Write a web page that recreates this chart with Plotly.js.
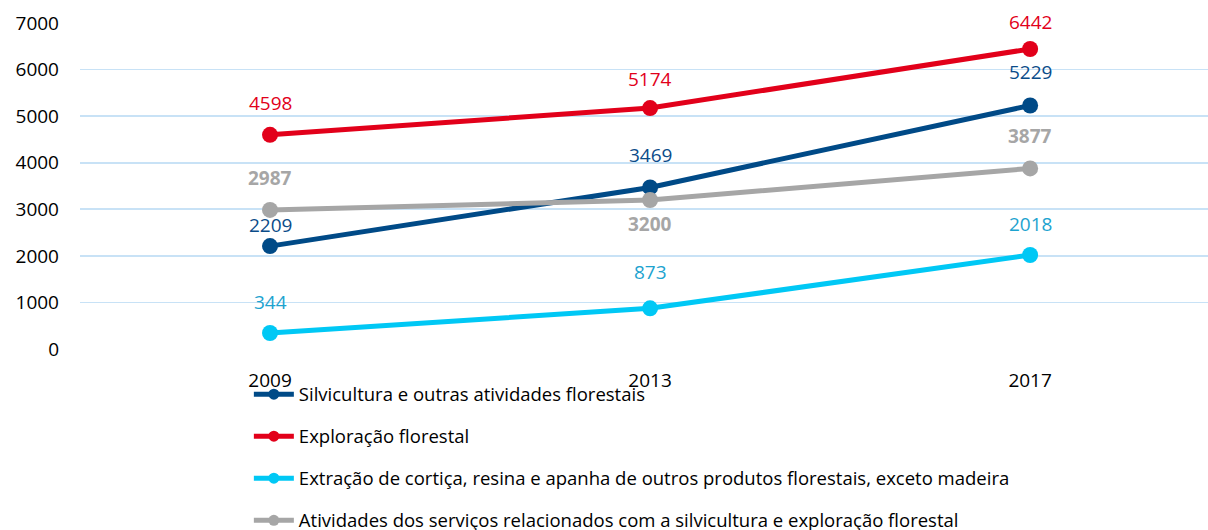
<!DOCTYPE html>
<html>
<head>
<meta charset="utf-8">
<script src="https://cdn.plot.ly/plotly-3.0.1.min.js"></script>
<style>html,body{margin:0;padding:0;background:#fff}#chart{width:1208px;height:530px}</style>
</head>
<body>
<div id="chart"></div>
<script>
const years = ['2009', '2013', '2017'];
const seriesNames = [
  'Silvicultura e outras atividades florestais',
  'Exploração florestal',
  'Extração de cortiça, resina e apanha de outros produtos florestais, exceto madeira',
  'Atividades dos serviços relacionados com a silvicultura e exploração florestal'
];
const silvicultura = [2209, 3469, 5229];
const exploracao = [4598, 5174, 6442];
const extracao = [344, 873, 2018];
const servicos = [2987, 3200, 3877];
const yTicks = [0, 1000, 2000, 3000, 4000, 5000, 6000, 7000];

// styling (not data)
const lineColors = ['#004A87', '#E2001A', '#00C8F5', '#A6A6A6'];
const textColors = ['#0B4C89', '#E2001A', '#1DA3CF', '#A6A6A6'];
const labelShift = [
  [21, 32, 33],
  [32, 29, 27],
  [31, 36, 31],
  [32, -24, 32]
];
const FONT = 'Open Sans, sans-serif';

const allValues = [silvicultura, exploracao, extracao, servicos];

const traces = allValues.map((vals, i) => ({
  type: 'scatter',
  mode: 'lines+markers',
  x: years,
  y: vals,
  name: seriesNames[i],
  showlegend: false,
  line: {color: lineColors[i], width: 5},
  marker: {color: lineColors[i], size: 16},
  cliponaxis: false
}));

// legend entries with smaller legend markers
seriesNames.forEach((nm, i) => {
  traces.push({
    type: 'scatter',
    mode: 'lines+markers',
    x: [years[0]], y: [null],
    name: nm,
    legendgroup: 'g' + i,
    showlegend: true,
    line: {color: lineColors[i], width: 5},
    marker: {color: lineColors[i], size: 11}
  });
});

const annotations = [];
allValues.forEach((vals, i) => {
  vals.forEach((v, j) => {
    const f = {family: FONT, size: 19, color: textColors[i]};
    if (i === 3) f.weight = 700;
    annotations.push({
      x: j, y: v, xref: 'x', yref: 'y',
      text: String(v), showarrow: false,
      yshift: labelShift[i][j],
      font: f
    });
  });
});

const layout = {
  width: 1208, height: 530,
  margin: {l: 80, r: 0, t: 23, b: 181, autoexpand: false},
  paper_bgcolor: '#ffffff', plot_bgcolor: '#ffffff',
  font: {family: FONT, size: 19, color: '#000000'},
  showlegend: true,
  annotations: annotations,
  legend: {
    x: 0.1497, xanchor: 'left', y: -0.0816, yanchor: 'top',
    orientation: 'v', tracegroupgap: 15, itemwidth: 40,
    font: {family: FONT, size: 18.5, color: '#000000'},
    bgcolor: 'rgba(0,0,0,0)'
  },
  xaxis: {
    type: 'category', range: [-0.5, 2.468],
    showgrid: false, zeroline: false, showline: false,
    ticks: '', ticklabelstandoff: 18,
    tickfont: {family: FONT, size: 19, color: '#000000'}
  },
  yaxis: {
    range: [0, 7000], tickvals: yTicks,
    showgrid: true, gridcolor: '#C8E2F6', gridwidth: 1.6,
    zeroline: false, showline: false, ticks: '',
    ticklabelstandoff: 20,
    tickfont: {family: FONT, size: 19, color: '#000000'}
  }
};

Plotly.newPlot('chart', traces, layout, {displayModeBar: false, staticPlot: true});
</script>
</body>
</html>
